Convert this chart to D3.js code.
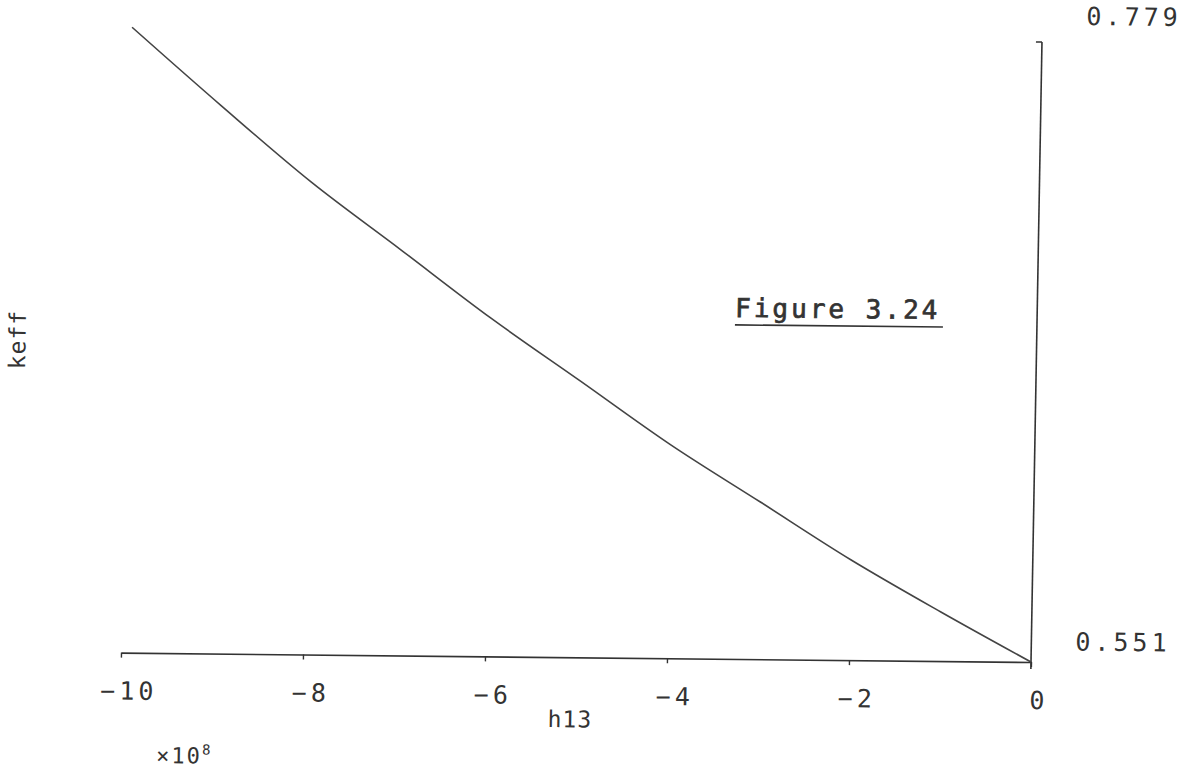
<!DOCTYPE html>
<html lang="en">
    <head>
        <meta charset="utf-8">
        <title>Figure 3.24</title>
        <script type="text/javascript" src="https://d3js.org/d3.v7.min.js"></script>
        <style>
            html, body { margin: 0; padding: 0; background: #fff; }
            svg { display: block; }
            text { font-family: "DejaVu Sans Mono", "Liberation Mono", monospace; fill: #333; }
        </style>
    </head>
    <body>
        <script>
            // values (keff against h13, x10^8)
            const h13 = [-10, -9, -8, -7, -6, -5, -4, -3, -2, -1, 0];
            const keff = [0.779, 0.7506, 0.7232, 0.6988, 0.6743, 0.6516, 0.6288, 0.6082, 0.5876, 0.5689, 0.551];
            const xTicks = [-10, -8, -6, -4, -2, 0];
            const yLabels = [0.551, 0.779];

            const w = 1201;
            const h = 770;

            const svg = d3.select("body")
                        .append("svg")
                        .attr("width", w)
                        .attr("height", h);

            // scanned page is a bit skewed, so the whole plot sits in a sheared group
            const cx = 1031, cy = 662;
            const g = svg.append("g")
                        .attr("transform", "translate(" + cx + "," + cy + ") matrix(1,0.0103,-0.0177,1,0,0) translate(" + (-cx) + "," + (-cy) + ")");

            const xScale = d3.scaleLinear()
                           .domain([-10, 0])
                           .range([121, 1031]);

            const yScale = d3.scaleLinear()
                           .domain([0.551, 0.779])
                           .range([662, 36.6]);

            // x axis
            const xAxis = d3.axisBottom(xScale)
                            .tickValues(xTicks)
                            .tickSize(5)
                            .tickSizeOuter(0)
                            .tickFormat(d3.format("d"));

            const ax = g.append("g")
                        .attr("transform", "translate(0," + yScale(0.551) + ")")
                        .call(xAxis);
            ax.select(".domain").attr("stroke", "#333").attr("stroke-width", 1.6);
            ax.selectAll(".tick line").attr("stroke", "#333").attr("stroke-width", 1.4);
            ax.selectAll(".tick text")
              .attr("y", 47)
              .attr("dy", null)
              .attr("x", 8)
              .attr("font-size", "25px")
              .attr("letter-spacing", "4px")
              .attr("font-family", "DejaVu Sans Mono")
              .attr("fill", "#333");

            // y axis on the right, running a little below the x axis
            const yTop = yScale(0.551) - 620;
            g.append("line")
             .attr("x1", xScale(0)).attr("x2", xScale(0))
             .attr("y1", yScale(0.551) + 7).attr("y2", yTop)
             .attr("stroke", "#333").attr("stroke-width", 1.6);
            g.append("line")
             .attr("x1", xScale(0) - 6).attr("x2", xScale(0))
             .attr("y1", yTop).attr("y2", yTop)
             .attr("stroke", "#333").attr("stroke-width", 1.6);

            g.selectAll("text.ylab")
             .data(yLabels)
             .enter()
             .append("text")
             .attr("class", "ylab")
             .attr("x", 1075)
             .attr("y", function(d) { return yScale(d) - 12; })
             .attr("font-size", "25px")
             .attr("letter-spacing", "4px")
             .text(function(d) { return d3.format(".3f")(d); });

            // the curve
            const line = d3.line()
                           .x(function(d, i) { return xScale(h13[i]); })
                           .y(function(d) { return yScale(d); })
                           .curve(d3.curveCatmullRom);

            g.append("path")
             .datum(keff)
             .attr("d", line)
             .attr("fill", "none")
             .attr("stroke", "#444")
             .attr("stroke-width", 1.6);

            // axis titles
            g.append("text")
             .attr("x", 571).attr("y", 732)
             .attr("text-anchor", "middle")
             .attr("font-size", "23px")
             .attr("letter-spacing", "1px")
             .text("h13");

            g.append("text")
             .attr("transform", "translate(20,350) rotate(-90)")
             .attr("text-anchor", "middle")
             .attr("font-size", "23px")
             .attr("letter-spacing", "1px")
             .text("keff");

            const mult = g.append("text")
             .attr("x", 158).attr("y", 772)
             .attr("font-size", "22px")
             .attr("letter-spacing", "2px");
            mult.append("tspan").text("×10");
            mult.append("tspan")
                .attr("dy", -9)
                .attr("font-size", "14px")
                .text("8");

            // figure caption, underlined
            g.append("text")
             .attr("x", 729).attr("y", 320)
             .attr("font-size", "26px")
             .attr("letter-spacing", "3px")
             .attr("stroke", "#333")
             .attr("stroke-width", 0.7)
             .text("Figure 3.24");
            g.append("line")
             .attr("x1", 729).attr("x2", 937)
             .attr("y1", 328).attr("y2", 328)
             .attr("stroke", "#333").attr("stroke-width", 1.6);
        </script>
    </body>
</html>
